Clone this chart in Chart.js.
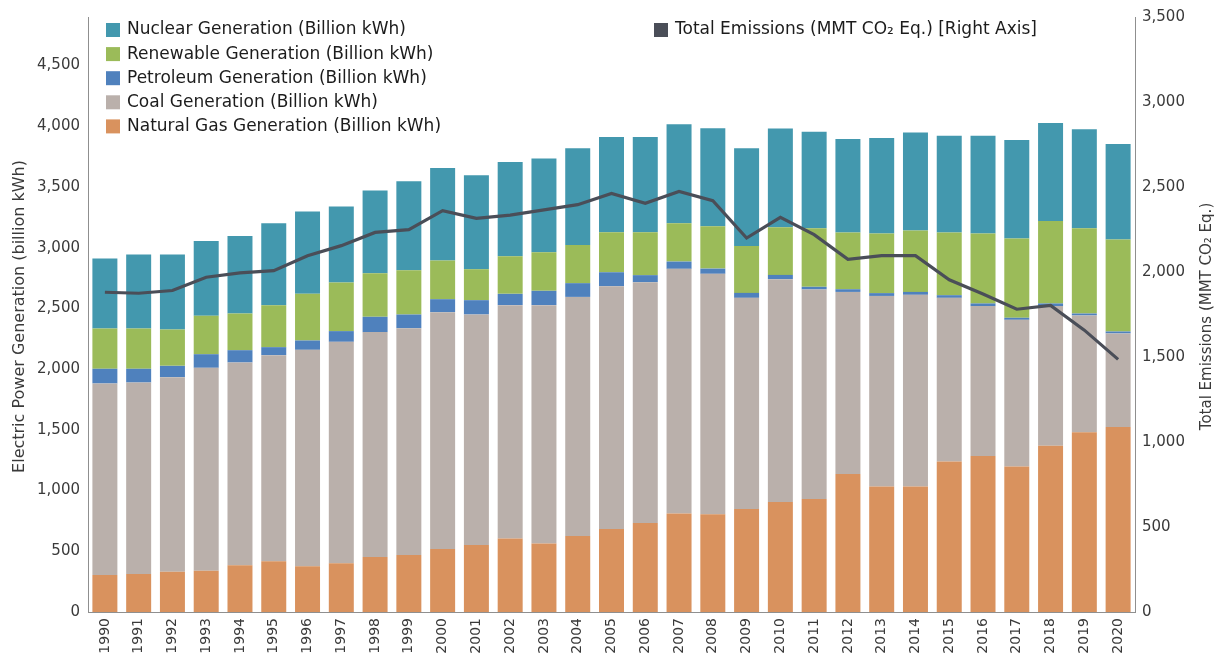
<!DOCTYPE html>
<html><head><meta charset="utf-8">
<script src="https://cdn.jsdelivr.net/npm/chart.js@4.4.1/dist/chart.umd.min.js"></script>
<style>html,body{margin:0;padding:0;background:#fff;} #wrap{width:1225px;height:656px;position:relative;}</style>
</head><body><div id="wrap"><canvas id="c" width="1225" height="656"></canvas></div>
<script>
const years = ['1990','1991','1992','1993','1994','1995','1996','1997','1998','1999','2000','2001','2002','2003','2004','2005','2006','2007','2008','2009','2010','2011','2012','2013','2014','2015','2016','2017','2018','2019','2020'];
const naturalGas = [305,313,332,340,384,417,376,401,453,469,519,551,606,565,626,683,733,812,804,848,905,930,1136,1034,1034,1240,1284,1199,1369,1481,1523];
const coal = [1577,1577,1602,1671,1671,1698,1783,1824,1852,1868,1950,1899,1921,1962,1969,2000,1983,2014,1981,1739,1836,1726,1500,1569,1578,1347,1235,1207,1150,961,771];
const petroleum = [121,113,93,112,101,66,77,88,126,113,107,118,93,118,113,115,58,60,43,41,35,22,22,23,24,22,22,17,22,16,16];
const renewable = [332,332,300,316,302,346,384,400,359,365,318,255,310,318,315,330,354,316,349,387,393,482,467,491,505,516,576,652,680,702,757];
const nuclear = [576,609,617,617,639,675,678,626,681,732,763,774,776,771,796,784,784,814,806,804,812,796,771,787,807,798,806,813,806,815,787];
const emissions = [1881,1875,1891,1969,1995,2008,2096,2155,2233,2249,2361,2316,2335,2365,2396,2462,2404,2474,2419,2200,2321,2220,2075,2096,2096,1954,1871,1781,1803,1658,1486];

const leftTicks = [0,500,1000,1500,2000,2500,3000,3500,4000,4500];
const rightTicks = [0,500,1000,1500,2000,2500,3000,3500];
const leftMax = 4900;
const rightMax = 3500;

const leftTitle = 'Electric Power Generation (billion kWh)';
const rightTitle = 'Total Emissions (MMT CO\u2082 Eq.)';

const FONT = '"DejaVu Sans", Verdana, sans-serif';
const TXT = '#3a3a3a';

const barCommon = {type:'bar', yAxisID:'y', stack:'gen', order:2, barPercentage:0.74, categoryPercentage:1.0, borderWidth:0};

const legendPlugin = {
  id:'customLegend',
  afterDraw(chart){
    const ctx = chart.ctx;
    ctx.save();
    ctx.font = '17px ' + FONT;
    ctx.textBaseline = 'middle';
    ctx.textAlign = 'left';
    const order = [4,3,2,1,0];
    order.forEach((di,i)=>{
      const ds = chart.data.datasets[di];
      const y = 30 + i*24.1;
      ctx.fillStyle = ds.backgroundColor;
      ctx.fillRect(106, y-7, 14, 14);
      ctx.fillStyle = '#1c1c1c';
      ctx.fillText(ds.label, 127, y);
    });
    const lds = chart.data.datasets[5];
    ctx.fillStyle = lds.borderColor;
    ctx.fillRect(654, 23, 14, 14);
    ctx.fillStyle = '#1c1c1c';
    ctx.fillText(lds.label, 675, 30);
    // axis titles
    const ca = chart.chartArea;
    const cy = (ca.top + ca.bottom)/2;
    ctx.fillStyle = TXT;
    ctx.textAlign = 'center';
    ctx.font = '16px ' + FONT;
    ctx.save();
    ctx.translate(20, cy+2);
    ctx.rotate(-Math.PI/2);
    ctx.fillText(leftTitle, 0, 0);
    ctx.restore();
    ctx.font = '15px ' + FONT;
    ctx.save();
    ctx.translate(1207, cy+2);
    ctx.rotate(-Math.PI/2);
    ctx.fillText(rightTitle, 0, 0);
    ctx.restore();
    ctx.restore();
  }
};

new Chart(document.getElementById('c'), {
  data: {
    labels: years,
    datasets: [
      Object.assign({}, barCommon, {label:'Natural Gas Generation (Billion kWh)', data:naturalGas, backgroundColor:'#D9925E'}),
      Object.assign({}, barCommon, {label:'Coal Generation (Billion kWh)', data:coal, backgroundColor:'#BAB0AB'}),
      Object.assign({}, barCommon, {label:'Petroleum Generation (Billion kWh)', data:petroleum, backgroundColor:'#4F81BD'}),
      Object.assign({}, barCommon, {label:'Renewable Generation (Billion kWh)', data:renewable, backgroundColor:'#9BBB59'}),
      Object.assign({}, barCommon, {label:'Nuclear Generation (Billion kWh)', data:nuclear, backgroundColor:'#4398AE'}),
      {type:'line', label:'Total Emissions (MMT CO\u2082 Eq.) [Right Axis]', data:emissions, yAxisID:'y2', order:0,
       borderColor:'#4A4E58', backgroundColor:'#4A4E58', borderWidth:3.2, pointRadius:0, tension:0, fill:false}
    ]
  },
  options: {
    responsive:false,
    devicePixelRatio:1,
    animation:false,
    layout:{padding:{top:16,left:0,right:0,bottom:0}},
    plugins:{legend:{display:false}, tooltip:{enabled:false}, title:{display:false}},
    scales:{
      x:{
        stacked:true,
        grid:{display:false, drawTicks:false},
        border:{display:true, color:'#8f8f8f', width:1},
        ticks:{autoSkip:false, minRotation:90, maxRotation:90, padding:6, color:TXT, font:{family:FONT, size:14}},
        afterFit(s){ s.height = 44; }
      },
      y:{
        position:'left', stacked:true, min:0, max:leftMax,
        grid:{display:false, drawTicks:false},
        border:{display:true, color:'#8f8f8f', width:1},
        ticks:{autoSkip:false, padding:8, color:TXT, font:{family:FONT, size:15},
               callback:(v)=>Number(v).toLocaleString('en-US')},
        afterBuildTicks(s){ s.ticks = leftTicks.map(v => ({value:v})); },
        afterFit(s){ s.width = 88; }
      },
      y2:{
        position:'right', min:0, max:rightMax,
        grid:{display:false, drawTicks:false},
        border:{display:true, color:'#8f8f8f', width:1},
        ticks:{autoSkip:false, padding:7, color:TXT, font:{family:FONT, size:15},
               callback:(v)=>Number(v).toLocaleString('en-US')},
        afterBuildTicks(s){ s.ticks = rightTicks.map(v => ({value:v})); },
        afterFit(s){ s.width = 90; }
      }
    }
  },
  plugins:[legendPlugin]
});
</script>
</body></html>
